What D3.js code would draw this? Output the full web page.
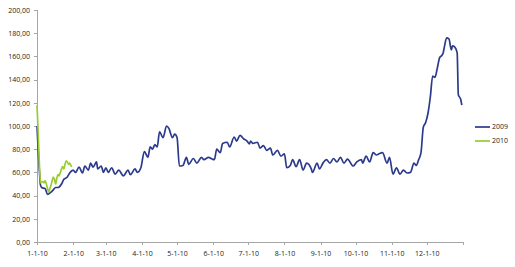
<!DOCTYPE html>
<meta charset="utf-8">
<style type="text/css">
    body { margin: 0; background: #fff; }
    text { font-family: "Open Sans", sans-serif; fill: #222; }
    .axis path, .axis line { stroke: #a6a6a6; shape-rendering: crispEdges; }
    svg { display: block; }
</style>
<body>
<script src="https://cdn.jsdelivr.net/npm/d3@7"></script>
<script>
// day of year (0 = Jan 1) and value
var days2009 = [0, 2, 3, 4, 7, 9, 12, 14, 16, 18, 21, 23, 26, 28, 31, 33, 36, 39, 41, 44,
    46, 48, 51, 52, 55, 57, 59, 61, 64, 67, 70, 74, 78, 80, 84, 86, 89, 92, 95, 97,
    99, 101, 103, 105, 108, 111, 113, 116, 118, 120, 122, 125, 128, 130, 134, 137, 141, 143, 147, 150,
    152, 154, 157, 159, 163, 165, 169, 171, 174, 177, 180, 182, 183, 185, 189, 191, 194, 197, 200, 202,
    206, 209, 212, 214, 217, 219, 222, 225, 228, 231, 235, 236, 240, 242, 245, 248, 251, 254, 257, 260,
    263, 266, 271, 274, 278, 279, 282, 285, 288, 291, 293, 296, 300, 302, 305, 308, 311, 314, 317, 320,
    323, 325, 327, 329, 331, 333, 335, 337, 339, 341, 343, 345, 347, 348, 349, 351, 353, 355, 356, 358,
    360, 361, 363, 364];
var values2009 = [100, 62, 49, 47, 46, 41, 43, 45, 47, 47, 50, 54, 56, 59.5, 62, 60, 64.5, 59.5, 65.5, 62,
    68, 64.5, 69, 63, 65.5, 60, 64, 60, 64, 58.5, 62, 57, 62, 58, 63, 60, 64, 78, 73, 82,
    80, 84, 82, 95, 90, 100, 98, 90, 93, 90, 65.5, 66, 73, 67, 72, 68, 73, 71, 73, 71.5,
    71, 80, 77, 85, 86, 82, 90.5, 87, 92, 89, 87, 84.5, 87, 85, 86, 81, 83, 79, 81, 75,
    79, 74, 76, 64, 66, 71, 65, 71, 62, 68, 63, 60, 68, 63, 68, 71, 68, 72, 69, 73,
    68, 71.5, 65.5, 69, 71, 68, 74, 69, 77, 75, 76, 77, 68, 73, 58.5, 64, 58.5, 62, 59.5, 60,
    68, 66, 71, 77, 99, 103, 111, 125, 143, 142, 150, 159, 161, 163, 168, 176, 175, 165.5, 169, 168,
    163, 127, 123, 118];

var days2010 = [0, 1, 2, 3, 4, 5, 6, 7, 8, 9, 10, 11, 12, 13, 14, 15, 16, 17, 18, 19,
    20, 21, 22, 23, 24, 25, 26, 27, 28, 29, 30];
var values2010 = [118, 95, 68, 51, 52, 52, 51, 53, 50, 46, 43, 46, 49, 53, 56, 54, 50, 55, 58, 57,
    60, 63, 65, 63, 67, 70, 69, 67, 68, 66, 65];

var yTicks = [0, 20, 40, 60, 80, 100, 120, 140, 160, 180, 200];

var seriesNames = ["2009", "2010"],
    seriesColors = ["#2c3a8c", "#99cc33"];

var width = 515, height = 267;
var margin = {top: 10, right: 52, bottom: 25, left: 37};

var start = new Date(2010, 0, 1), end = new Date(2011, 0, 1);

var x = d3.scaleTime()
    .domain([start, end])
    .range([margin.left, width - margin.right]);

var y = d3.scaleLinear()
    .domain([0, 200])
    .range([height - margin.bottom, margin.top]);

var svg = d3.select("body").append("svg")
    .attr("width", width)
    .attr("height", height);

function toPoints(days, values) {
    return days.map(function(d, i) {
        return {date: d3.timeDay.offset(start, d), value: values[i]};
    });
}

var series = [toPoints(days2009, values2009), toPoints(days2010, values2010)];

// y axis
var fmt = function(v) { return d3.format(".2f")(v).replace(".", ","); };
svg.append("g")
    .attr("class", "axis")
    .attr("transform", "translate(" + margin.left + ",0)")
    .call(d3.axisLeft(y).tickValues(yTicks).tickFormat(fmt).tickSize(3).tickPadding(4))
    .selectAll("text").style("font-size", "7px");

// x axis, one tick per month
var months = d3.timeMonth.range(start, d3.timeDay.offset(end, 1));
svg.append("g")
    .attr("class", "axis")
    .attr("transform", "translate(0," + y(0) + ")")
    .call(d3.axisBottom(x).tickValues(months).tickSize(3).tickPadding(6)
        .tickFormat(function(d) { return d < end ? d3.timeFormat("%-m-%-d-%y")(d) : ""; }))
    .selectAll("text").style("font-size", "7px");

var line = d3.line()
    .curve(d3.curveMonotoneX)
    .x(function(d) { return x(d.date); })
    .y(function(d) { return y(d.value); });

svg.selectAll(".series")
    .data(series)
    .enter().append("path")
    .attr("class", "series")
    .attr("fill", "none")
    .attr("stroke", function(d, i) { return seriesColors[i]; })
    .attr("stroke-width", 1.7)
    .attr("stroke-linejoin", "round")
    .attr("d", line);

// legend
var legend = svg.selectAll(".legend")
    .data(seriesNames)
    .enter().append("g")
    .attr("class", "legend")
    .attr("transform", function(d, i) { return "translate(475," + (127 + i * 14) + ")"; });

legend.append("line")
    .attr("x1", 0).attr("x2", 15)
    .attr("stroke", function(d, i) { return seriesColors[i]; })
    .attr("stroke-width", 1.7);

legend.append("text")
    .attr("x", 17)
    .attr("dy", "0.35em")
    .style("font-size", "7px")
    .text(function(d) { return d; });
</script>
</body>
